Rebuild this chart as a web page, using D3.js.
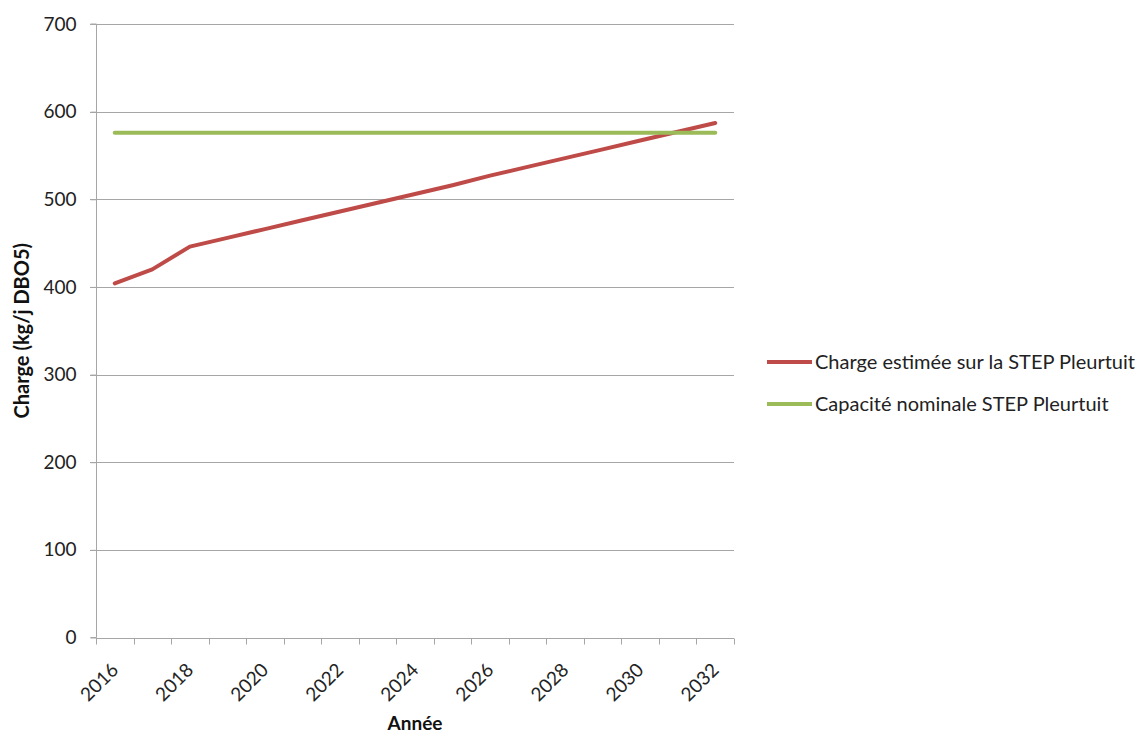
<!DOCTYPE html>
<html><head><meta charset="utf-8">
<script src="https://cdn.jsdelivr.net/npm/d3@7"></script>
<style>body{margin:0;background:#fff}svg{display:block}text{font-family:Lato,"Liberation Sans",sans-serif}</style>
</head><body><svg id="c" width="1148" height="735"></svg>
<script>
const years = [2016,2017,2018,2019,2020,2021,2022,2023,2024,2025,2026,2027,2028,2029,2030,2031,2032];
const chargeEstimee = [404,420,446,456,466,476,486,496,506,516,527,537,547,557,567,577,587];
const capaciteNominale = [576,576,576,576,576,576,576,576,576,576,576,576,576,576,576,576,576];
const yTicks = [0,100,200,300,400,500,600,700];
const xTickLabels = [2016,2018,2020,2022,2024,2026,2028,2030,2032];
const seriesNames = ["Charge estimée sur la STEP Pleurtuit","Capacité nominale STEP Pleurtuit"];
const seriesColors = ["#be4b48","#9bbb59"];

const svg = d3.select("#c");
const L=96,R=734,T=24,B=637.5;
const x = d3.scaleBand().domain(years).range([L,R]);
const y = d3.scaleLinear().domain([0,700]).range([B,T]);

// gridlines
svg.append("g").selectAll("line").data(yTicks.filter(d=>d>0)).join("line")
 .attr("x1",L-6).attr("x2",R).attr("y1",d=>Math.round(y(d))+0.5).attr("y2",d=>Math.round(y(d))+0.5)
 .attr("stroke","#a6a6a6").attr("stroke-width",1);
// y axis
const ya = svg.append("g").attr("transform",`translate(${L+0.5},0)`)
 .call(d3.axisLeft(y).tickValues(yTicks).tickSize(6).tickPadding(14));
ya.select(".domain").attr("stroke","#a6a6a6").attr("d",`M-6,${y(0)}H0V${y(700)}H-6`);
ya.selectAll(".tick line").attr("stroke","#a6a6a6");
ya.selectAll(".tick text").attr("font-size",19).attr("fill","#222").attr("font-family","Lato, 'Liberation Sans', sans-serif");

// x axis with ticks at category boundaries
const xa = svg.append("g").attr("transform",`translate(0,${Math.round(B)+0.5})`);
xa.append("line").attr("x1",L).attr("x2",R).attr("stroke","#a6a6a6");
const bounds = years.map(d=>x(d)).concat([x(years[years.length-1])+x.bandwidth()]);
xa.selectAll("line.t").data(bounds).join("line").attr("class","t")
 .attr("x1",d=>Math.round(d)+0.5).attr("x2",d=>Math.round(d)+0.5).attr("y1",0).attr("y2",6).attr("stroke","#a6a6a6");
xa.selectAll("text").data(xTickLabels).join("text")
 .attr("transform",d=>`translate(${x(d)+x.bandwidth()/2},${28}) rotate(-45)`)
 .attr("text-anchor","end").attr("dy","0.35em").attr("font-size",19).attr("fill","#222").text(d=>d);

// lines
const line = d3.line().x((d,i)=>x(years[i])+x.bandwidth()/2).y(d=>y(d));
[chargeEstimee,capaciteNominale].forEach((s,k)=>{
  svg.append("path").datum(s).attr("d",line).attr("fill","none")
   .attr("stroke",seriesColors[k]).attr("stroke-width",4).attr("stroke-linecap","round").attr("stroke-linejoin","round");
});

// titles
svg.append("text").attr("transform",`translate(22,${(T+B)/2}) rotate(-90)`).attr("text-anchor","middle").attr("dy","0.35em")
 .attr("font-size",20).attr("font-weight","bold").attr("fill","#111").text("Charge (kg/j DBO5)");
svg.append("text").attr("x",415).attr("y",730).attr("text-anchor","middle")
 .attr("font-size",19).attr("font-weight","bold").attr("fill","#111").text("Année");

// legend
const lg = svg.append("g");
seriesNames.forEach((n,k)=>{
  const yy = 362 + k*42;
  lg.append("line").attr("x1",767).attr("x2",812).attr("y1",yy).attr("y2",yy).attr("stroke",seriesColors[k]).attr("stroke-width",4);
  lg.append("text").attr("x",815).attr("y",yy).attr("dy","0.35em").attr("font-size",20).attr("fill","#222").text(n);
});
</script></body></html>
